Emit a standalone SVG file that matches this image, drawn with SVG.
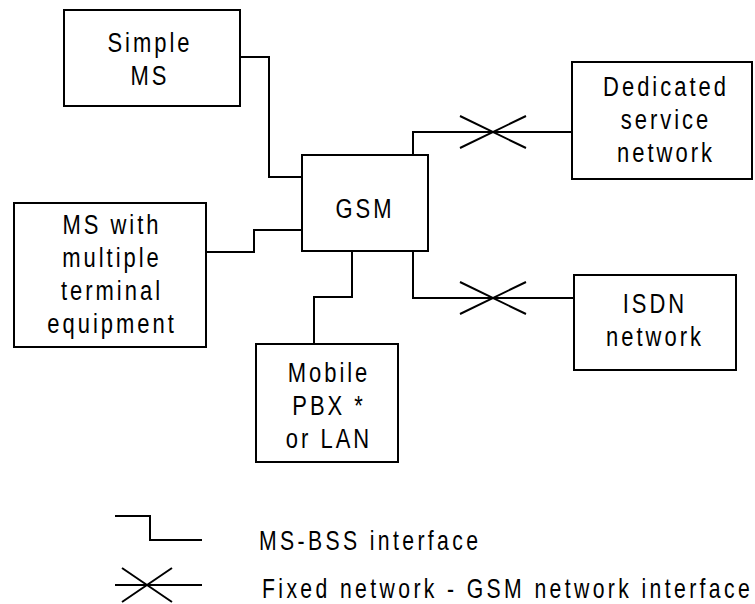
<svg xmlns="http://www.w3.org/2000/svg" width="755" height="604" viewBox="0 0 755 604">
<style>
rect{fill:#fff;stroke:#000;stroke-width:2}
path{fill:none;stroke:#000;stroke-width:2}
text{font-family:"Liberation Sans",Arial,sans-serif;font-size:28px;fill:#000;letter-spacing:3.8px}
.c{text-anchor:middle}
.lg{font-size:27px;letter-spacing:4.3px}
</style>
<defs>
<path id="x" d="M-33,-16 L33,16 M-33,16 L33,-16"/>
</defs>
<g id="connectors">
<path d="M240,57 H269 V177 H302"/>
<path d="M206,252 H254 V230 H302"/>
<path d="M352,251 V297 H314 V344"/>
<path d="M413,155 V132 H572"/>
<use href="#x" x="493" y="132"/>
<path d="M413,251 V298 H574"/>
<use href="#x" x="493" y="298"/>
</g>
<g id="simple-ms">
<rect x="64" y="10" width="176" height="96"/>
<text class="c" transform="translate(150,52) scale(0.785,1)">Simple</text>
<text class="c" transform="translate(150,85) scale(0.785,1)">MS</text>
</g>
<g id="gsm">
<rect x="302" y="155" width="126" height="96"/>
<text class="c" transform="translate(365,218) scale(0.785,1)">GSM</text>
</g>
<g id="dedicated">
<rect x="572" y="62" width="180" height="117"/>
<text class="c" transform="translate(666,96) scale(0.785,1)">Dedicated</text>
<text class="c" transform="translate(666,129) scale(0.785,1)">service</text>
<text class="c" transform="translate(666,162) scale(0.785,1)">network</text>
</g>
<g id="ms-multiple">
<rect x="14" y="203" width="192" height="144"/>
<text class="c" transform="translate(112,234) scale(0.785,1)">MS with</text>
<text class="c" transform="translate(112,267) scale(0.785,1)">multiple</text>
<text class="c" transform="translate(112,300) scale(0.785,1)">terminal</text>
<text class="c" transform="translate(112,333) scale(0.785,1)">equipment</text>
</g>
<g id="isdn">
<rect x="574" y="275" width="162" height="95"/>
<text class="c" transform="translate(655,313) scale(0.785,1)">ISDN</text>
<text class="c" transform="translate(655,346) scale(0.785,1)">network</text>
</g>
<g id="mobile-pbx">
<rect x="256" y="344" width="142" height="118"/>
<text class="c" transform="translate(329,382) scale(0.785,1)">Mobile</text>
<text class="c" transform="translate(329,415) scale(0.785,1)">PBX *</text>
<text class="c" transform="translate(329,448) scale(0.785,1)">or LAN</text>
</g>
<g id="legend">
<path d="M115,516 H150 V540 H202"/>
<path d="M115,585 H202"/>
<path d="M122,568 L172,602 M122,602 L172,568"/>
<text class="lg" transform="translate(259,550) scale(0.785,1)">MS-BSS interface</text>
<text class="lg" transform="translate(262,598) scale(0.785,1)">Fixed network - GSM network interface</text>
</g>
</svg>
